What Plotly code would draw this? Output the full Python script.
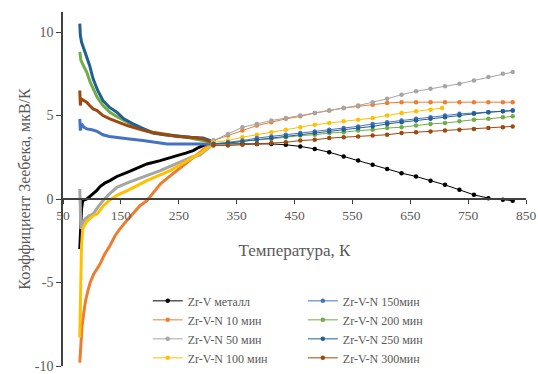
import plotly.graph_objects as go

# ---------------- data ----------------
names = ["Zr-V металл", "Zr-V-N 10 мин", "Zr-V-N 50 мин", "Zr-V-N 100 мин",
         "Zr-V-N 150мин", "Zr-V-N 200 мин", "Zr-V-N 250 мин", "Zr-V-N 300мин"]
colors = ["#000000", "#ED7D31", "#A5A5A5", "#FFC000",
          "#4472C4", "#70AD47", "#255E91", "#9E480E"]

# low temperature measurement (dense curves)
metal_T_low = [79, 80, 81, 82, 84, 88, 91, 96, 102, 108, 114, 122, 131, 143, 161, 178, 195, 218, 235, 247, 262, 275, 285, 295, 305]
metal_S_low = [-3.0, -2.0, -1.2, -0.6, -0.1, -0.05, 0.0, 0.15, 0.3, 0.5, 0.75, 0.95, 1.1, 1.35, 1.6, 1.85, 2.1, 2.3, 2.45, 2.6, 2.75, 2.9, 3.1, 3.25, 3.3]

n10_T_low = [79, 80, 81, 83, 86, 89, 93, 97, 103, 114, 122, 131, 140, 148, 160, 171, 183, 195, 207, 218, 232, 247, 262, 275, 290, 305]
n10_S_low = [-9.8, -9.3, -8.6, -7.6, -6.8, -6.1, -5.5, -5.0, -4.5, -3.9, -3.3, -2.8, -2.2, -1.8, -1.3, -0.9, -0.4, -0.1, 0.4, 0.9, 1.3, 1.7, 2.1, 2.5, 2.9, 3.3]

n50_T_low = [79, 80, 81, 83, 88, 95, 102, 110, 119, 130, 143, 160, 178, 198, 218, 238, 257, 272, 287, 300, 310]
n50_S_low = [0.6, -0.5, -1.8, -1.5, -1.2, -1.0, -0.9, -0.5, -0.1, 0.3, 0.7, 0.95, 1.2, 1.45, 1.7, 2.0, 2.3, 2.5, 2.65, 3.0, 3.3]

n100_T_low = [79, 80, 80.5, 81, 82, 84, 88, 95, 102, 109, 120, 131, 145, 161, 178, 195, 215, 235, 255, 275, 290, 305]
n100_S_low = [-8.3, -6.5, -4.5, -3.5, -2.8, -1.8, -1.5, -1.2, -1.0, -0.9, -0.4, -0.05, 0.25, 0.5, 0.8, 1.1, 1.4, 1.7, 2.1, 2.5, 2.8, 3.2]

n150_T_low = [79, 80, 82, 86, 91, 100, 109, 119, 130, 148, 165, 188, 210, 230, 250, 275, 292, 305]
n150_S_low = [4.8, 4.1, 4.5, 4.3, 4.2, 4.15, 4.05, 3.85, 3.75, 3.65, 3.6, 3.5, 3.4, 3.3, 3.3, 3.3, 3.3, 3.3]

n200_T_low = [79, 81, 85, 91, 97, 103, 109, 119, 131, 145, 161, 180, 205, 225, 247, 270, 292, 305]
n200_S_low = [8.8, 8.3, 8.0, 7.6, 7.0, 6.5, 6.1, 5.6, 5.2, 4.9, 4.6, 4.3, 4.0, 3.9, 3.8, 3.65, 3.5, 3.4]

n250_T_low = [79, 80, 82, 86, 91, 96, 102, 110, 119, 130, 143, 155, 171, 188, 205, 225, 247, 270, 292, 305]
n250_S_low = [10.5, 9.8, 9.4, 9.0, 8.6, 8.0, 7.2, 6.5, 5.9, 5.5, 5.2, 4.8, 4.5, 4.2, 3.95, 3.85, 3.76, 3.7, 3.65, 3.5]

n300_T_low = [79, 80, 81, 85, 91, 96, 102, 109, 119, 131, 145, 161, 180, 195, 220, 247, 270, 292, 305]
n300_S_low = [6.5, 5.6, 6.0, 5.9, 5.8, 5.6, 5.4, 5.3, 5.0, 4.8, 4.6, 4.4, 4.2, 4.05, 3.9, 3.75, 3.7, 3.6, 3.4]

# high temperature measurement (points)
T_high = [310, 335, 360, 385, 410, 435, 460, 485, 510, 535, 560, 585, 610, 635, 660, 685, 710, 735, 760, 785, 810, 827]
metal_S_high = [3.3, 3.3, 3.3, 3.3, 3.3, 3.25, 3.15, 3.0, 2.8, 2.55, 2.3, 2.05, 1.8, 1.55, 1.35, 1.1, 0.85, 0.55, 0.25, 0.05, -0.05, -0.1]
n10_S_high = [3.5, 3.8, 4.1, 4.4, 4.6, 4.8, 4.95, 5.15, 5.3, 5.45, 5.55, 5.65, 5.75, 5.8, 5.8, 5.8, 5.8, 5.8, 5.8, 5.8, 5.8, 5.8]
n50_S_high = [3.5, 3.9, 4.3, 4.5, 4.7, 4.85, 5.0, 5.15, 5.3, 5.45, 5.6, 5.8, 6.0, 6.25, 6.45, 6.6, 6.75, 6.9, 7.1, 7.3, 7.5, 7.6]
n100_T_high = [310, 335, 360, 385, 410, 435, 460, 485, 510, 535, 560, 585, 610, 635, 660, 685, 705]
n100_S_high = [3.4, 3.5, 3.7, 3.85, 4.0, 4.15, 4.3, 4.45, 4.55, 4.65, 4.75, 4.85, 5.0, 5.15, 5.25, 5.35, 5.45]
n150_S_high = [3.3, 3.4, 3.5, 3.65, 3.75, 3.85, 3.95, 4.05, 4.15, 4.25, 4.35, 4.5, 4.6, 4.7, 4.8, 4.9, 5.0, 5.1, 5.15, 5.2, 5.25, 5.3]
n200_S_high = [3.3, 3.35, 3.45, 3.55, 3.6, 3.7, 3.8, 3.85, 3.95, 4.0, 4.1, 4.15, 4.25, 4.3, 4.4, 4.5, 4.55, 4.65, 4.75, 4.8, 4.9, 4.95]
n250_S_high = [3.3, 3.35, 3.45, 3.55, 3.65, 3.75, 3.85, 3.95, 4.05, 4.15, 4.25, 4.35, 4.5, 4.6, 4.7, 4.8, 4.9, 5.0, 5.1, 5.2, 5.25, 5.3]
n300_S_high = [3.2, 3.2, 3.25, 3.3, 3.35, 3.4, 3.5, 3.55, 3.65, 3.7, 3.75, 3.8, 3.85, 3.95, 4.0, 4.05, 4.1, 4.15, 4.2, 4.25, 4.3, 4.35]

x_ticks = [50, 150, 250, 350, 450, 550, 650, 750, 850]
y_ticks = [-10, -5, 0, 5, 10]
x_range = [50, 850]
y_range = [-10, 11.2]

low = [(metal_T_low, metal_S_low), (n10_T_low, n10_S_low), (n50_T_low, n50_S_low),
       (n100_T_low, n100_S_low), (n150_T_low, n150_S_low), (n200_T_low, n200_S_low),
       (n250_T_low, n250_S_low), (n300_T_low, n300_S_low)]
high = [(T_high, metal_S_high), (T_high, n10_S_high), (T_high, n50_S_high),
        (n100_T_high, n100_S_high), (T_high, n150_S_high), (T_high, n200_S_high),
        (T_high, n250_S_high), (T_high, n300_S_high)]

FONT = "Liberation Serif"
GRAY = "#595959"

fig = go.Figure()
for i, name in enumerate(names):
    leg = "legend" if i < 4 else "legend2"
    tl, sl = low[i]
    th, sh = high[i]
    fig.add_trace(go.Scatter(x=tl, y=sl, mode="lines", name=name, legendgroup=name,
                             legend=leg, showlegend=False,
                             line=dict(color=colors[i], width=3),
                             cliponaxis=False))
    fig.add_trace(go.Scatter(x=th, y=sh, mode="lines+markers", name=name, legendgroup=name,
                             legend=leg, showlegend=True,
                             line=dict(color=colors[i], width=1),
                             marker=dict(color=colors[i], size=4.5),
                             cliponaxis=False))

pos0 = (0 - y_range[0]) / (y_range[1] - y_range[0])

fig.update_layout(
    width=538, height=384,
    margin=dict(l=63, r=12, t=12, b=12),
    paper_bgcolor="white", plot_bgcolor="white",
    font=dict(family=FONT, color=GRAY, size=12),
    xaxis=dict(range=x_range, tickvals=x_ticks, ticktext=[str(v) for v in x_ticks],
               anchor="free", position=pos0, automargin=False,
               showline=True, linecolor="#404040", linewidth=1.5,
               ticks="outside", ticklen=4, tickcolor="#404040",
               showgrid=False, zeroline=False,
               tickfont=dict(family=FONT, size=13.5, color=GRAY),
               title=dict(text="Температура, К", font=dict(family=FONT, size=17, color=GRAY), standoff=21)),
    yaxis=dict(range=y_range, tickvals=y_ticks, ticktext=[str(v) for v in y_ticks],
               automargin=False,
               showline=True, linecolor="#404040", linewidth=1.5,
               ticks="outside", ticklen=5, tickcolor="#404040",
               showgrid=False, zeroline=False,
               tickfont=dict(family=FONT, size=14, color=GRAY),
               title=dict(text="Коэффициент Зеебека, мкВ/К", font=dict(family=FONT, size=16, color=GRAY), standoff=0)),
    legend=dict(x=0.183, y=0.225, xanchor="left", yanchor="top",
                font=dict(family=FONT, size=12, color=GRAY), itemwidth=30,
                bgcolor="rgba(0,0,0,0)", tracegroupgap=0),
    legend2=dict(x=0.518, y=0.225, xanchor="left", yanchor="top",
                 font=dict(family=FONT, size=12, color=GRAY), itemwidth=30,
                 bgcolor="rgba(0,0,0,0)", tracegroupgap=0),
)

# remove the default page margin so the figure starts at the window's corner
fig.write_html("out.html", config={"displayModeBar": False},
               post_script="document.body.style.margin='0';document.documentElement.style.overflow='hidden';document.body.style.overflow='hidden';")
